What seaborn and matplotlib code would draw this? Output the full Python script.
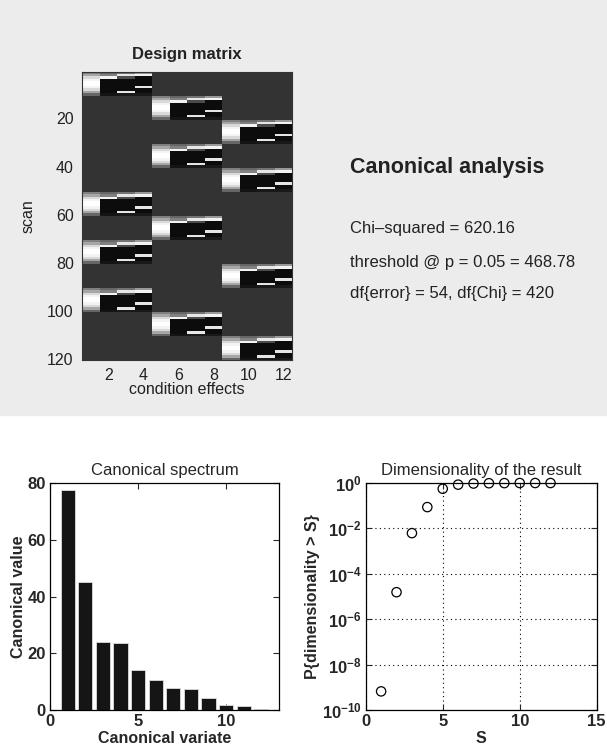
import numpy as np
import pandas as pd
import matplotlib
matplotlib.use("Agg")
import matplotlib.pyplot as plt
from matplotlib.patches import Rectangle
import seaborn as sns

sns.set_style("white")
plt.rcParams['font.family'] = ['Liberation Sans', 'DejaVu Sans']
plt.rcParams['mathtext.default'] = 'regular'

# design matrix: one 10-scan block (4 columns), placed per condition group
block_pattern = [
    [0.50, 0.40, 0.45, 0.60],
    [0.65, 0.50, 0.90, 0.95],
    [0.85, 0.95, 0.30, 0.05],
    [0.95, 0.05, 0.05, 0.05],
    [1.00, 0.05, 0.05, 0.05],
    [1.00, 0.05, 0.05, 0.05],
    [0.95, 0.05, 0.05, 0.90],
    [0.85, 0.05, 0.05, 0.05],
    [0.65, 0.05, 0.90, 0.05],
    [0.40, 0.08, 0.10, 0.10],
]
block_groups = [1, 2, 3, 2, 3, 1, 2, 1, 3, 1, 2, 3]   # which 4-column group is active per 10 scans
background_level = 0.20

# canonical spectrum
variate = [1, 2, 3, 4, 5, 6, 7, 8, 9, 10, 11, 12]
canon_value = [77.6, 45.0, 23.9, 23.5, 14.1, 10.6, 7.9, 7.4, 4.2, 1.6, 1.4, 0.3]

# dimensionality of the result
S = [1, 2, 3, 4, 5, 6, 7, 8, 9, 10, 11, 12]
p_dim = [6.6e-10, 1.55e-5, 6.2e-3, 0.087, 0.56, 0.85, 0.95, 0.98, 0.99, 1.0, 1.0, 1.0]

stats_lines = ["Chi\u2013squared = 620.16",
               "threshold @ p = 0.05 = 468.78",
               "df{error} = 54, df{Chi} = 420"]

# build the image
bp = np.array(block_pattern)
nb = bp.shape[0]
X = np.full((nb * len(block_groups), 4 * 3), background_level)
for i, g in enumerate(block_groups):
    X[i * nb:(i + 1) * nb, (g - 1) * 4:g * 4] = bp
dm = pd.DataFrame(X, columns=range(1, 13))

fig = plt.figure(figsize=(6.07, 7.49), dpi=100)
fig.patch.set_facecolor('white')
fig.patches.append(Rectangle((0, 0.446), 1, 0.554, transform=fig.transFigure,
                             color='#ececec', zorder=-10))

txt = '#222222'

# ---- design matrix
ax0 = fig.add_axes([0.1351, 0.5194, 0.346, 0.385])
sns.heatmap(dm, cmap='gray', vmin=0, vmax=1, cbar=False, ax=ax0,
            xticklabels=False, yticklabels=False)
ax0.set_xticks(np.array([2, 4, 6, 8, 10, 12]) - 0.5)
ax0.set_xticklabels(['2', '4', '6', '8', '10', '12'], fontsize=11.5, color=txt)
ax0.set_yticks(np.array([20, 40, 60, 80, 100, 120]) - 0.5)
ax0.set_yticklabels(['20', '40', '60', '80', '100', '120'], fontsize=11.5, color=txt, rotation=0)
ax0.tick_params(length=0, pad=6)
for sp in ax0.spines.values():
    sp.set_visible(True)
    sp.set_color('#333333')
ax0.set_title('Design matrix', fontsize=12, fontweight='bold', color=txt, pad=9)
ax0.set_xlabel('condition effects', fontsize=11.5, color=txt, labelpad=-1)
ax0.set_ylabel('scan', fontsize=11.5, color=txt, labelpad=8)

fig.text(0.5766, 0.777, 'Canonical analysis', fontsize=15.5, fontweight='bold',
         color=txt, va='center')
for yy, s in zip([0.6943, 0.6502, 0.6088], stats_lines):
    fig.text(0.5766, yy, s, fontsize=12, color=txt, va='center')

# ---- canonical spectrum
ax1 = fig.add_axes([0.0824, 0.0521, 0.3772, 0.3030])
sns.barplot(x=variate, y=canon_value, native_scale=True, color='#151515',
            saturation=1, width=0.8, edgecolor='#dddddd', linewidth=0.6, ax=ax1)
ax1.set_xlim(0, 13)
ax1.set_ylim(0, 80)
ax1.set_xticks([0, 5, 10])
ax1.set_yticks([0, 20, 40, 60, 80])
ax1.set_title('Canonical spectrum', fontsize=12, pad=6)
ax1.set_xlabel('Canonical variate', fontsize=11.5, fontweight='bold', labelpad=1)
ax1.set_ylabel('Canonical value', fontsize=11.5, fontweight='bold', labelpad=1)

# ---- dimensionality
ax2 = fig.add_axes([0.6025, 0.0521, 0.3806, 0.3030])
ax2.set_yscale('log')
sns.scatterplot(x=S, y=p_dim, marker='o', s=45, facecolors='none',
                edgecolor='black', linewidth=0.9, ax=ax2, clip_on=False, zorder=5)
ax2.set_xlim(0, 15)
ax2.set_ylim(1e-10, 1)
ax2.set_xticks([0, 5, 10, 15])
ax2.set_yticks([1e-10, 1e-8, 1e-6, 1e-4, 1e-2, 1])
ax2.minorticks_off()
ax2.grid(True, which='major', linestyle=(0, (1, 3)), color='black', linewidth=0.8)
ax2.set_title('Dimensionality of the result', fontsize=12, pad=6)
ax2.set_xlabel('S', fontsize=11.5, fontweight='bold', labelpad=1)
ax2.set_ylabel('P{dimensionality > S}', fontsize=11.5, fontweight='bold', labelpad=1)

for ax in (ax1, ax2):
    ax.tick_params(direction='in', length=4, width=0.8, labelsize=12,
                   top=True, right=True, bottom=True, left=True, pad=3)
    for lab in ax.get_xticklabels() + ax.get_yticklabels():
        lab.set_fontweight('bold')
    for sp in ax.spines.values():
        sp.set_visible(True)
        sp.set_color('black')
        sp.set_linewidth(0.9)

fig.savefig('out.png', dpi=100)
